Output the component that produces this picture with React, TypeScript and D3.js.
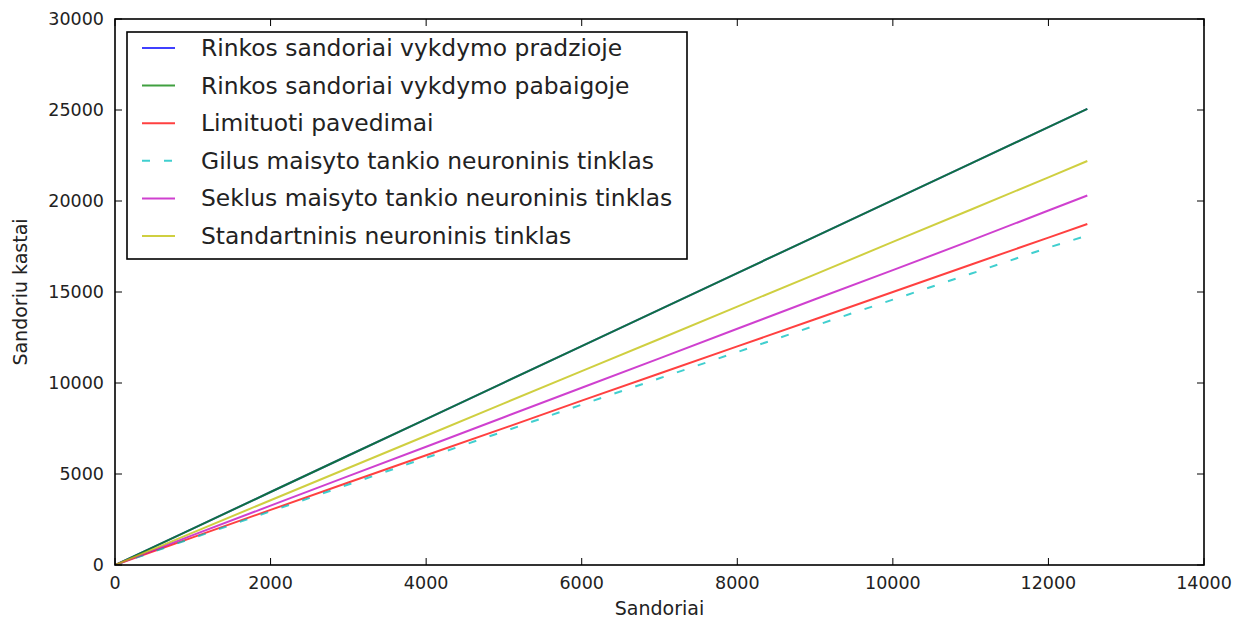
import React from "react";
import * as d3 from "d3";

const xValues = [0, 1000, 2000, 3000, 4000, 5000, 6000, 7000, 8000, 9000, 10000, 11000, 12000, 12500];
const blueValues = [0, 2000, 4010, 6015, 8020, 10025, 12030, 14035, 16040, 18045, 20050, 22055, 24060, 25060];
const greenValues = [0, 2000, 4010, 6015, 8020, 10025, 12030, 14035, 16040, 18045, 20050, 22055, 24060, 25060];
const redValues = [0, 1520, 3030, 4530, 6030, 7520, 9030, 10520, 12010, 13500, 15000, 16500, 17990, 18740];
const cyanValues = [0, 1480, 2950, 4420, 5890, 7340, 8810, 10260, 11700, 13150, 14580, 16000, 17440, 18100];
const magentaValues = [0, 1640, 3260, 4880, 6500, 8120, 9740, 11350, 12980, 14600, 16200, 17820, 19480, 20300];
const yellowValues = [0, 1780, 3560, 5330, 7100, 8880, 10650, 12420, 14200, 15970, 17750, 19520, 21300, 22200];

const seriesNames = [
  "Rinkos sandoriai vykdymo pradzioje",
  "Rinkos sandoriai vykdymo pabaigoje",
  "Limituoti pavedimai",
  "Gilus maisyto tankio neuroninis tinklas",
  "Seklus maisyto tankio neuroninis tinklas",
  "Standartninis neuroninis tinklas",
];
const seriesValues = [blueValues, greenValues, redValues, cyanValues, magentaValues, yellowValues];
const seriesColors = ["#0000ff", "#008000", "#ff0000", "#00bfbf", "#bf00bf", "#bfbf00"];
const seriesDashed = [false, false, false, true, false, false];

const xTicks = [0, 2000, 4000, 6000, 8000, 10000, 12000, 14000];
const yTicks = [0, 5000, 10000, 15000, 20000, 25000, 30000];
const xLabel = "Sandoriai";
const yLabel = "Sandoriu kastai";

export default function App() {
  const W = 1242, H = 621;
  const left = 115, right = 1204, top = 19, bottom = 565;
  const x = d3.scaleLinear().domain([0, 14000]).range([left, right]);
  const y = d3.scaleLinear().domain([0, 30000]).range([bottom, top]);
  const font = "'DejaVu Sans', sans-serif";
  const tickLen = 7;

  const line = (vals: number[]) =>
    d3.line<number>().x((_, i) => x(xValues[i])).y((v) => y(v))(vals) || "";

  const legX = 127, legY = 32, legW = 560, legH = 227;
  const rowH = 37.6;

  return (
    <svg width={W} height={H} style={{ position: "absolute", left: 0, top: 0, background: "#fff" }} fontFamily={font}>
      <rect x={0} y={0} width={W} height={H} fill="#fff" />
      <clipPath id="plot">
        <rect x={left} y={top} width={right - left} height={bottom - top} />
      </clipPath>
      <g clipPath="url(#plot)">
        {seriesValues.map((vals, i) => (
          <path
            key={i}
            d={line(vals)}
            fill="none"
            stroke={seriesColors[i]}
            strokeOpacity={0.75}
            strokeWidth={2}
            strokeDasharray={seriesDashed[i] ? "8,14" : undefined}
          />
        ))}
      </g>
      {xTicks.map((t) => (
        <g key={"x" + t}>
          <line x1={x(t)} x2={x(t)} y1={bottom} y2={bottom - tickLen} stroke="#000" strokeWidth={1} />
          <line x1={x(t)} x2={x(t)} y1={top} y2={top + tickLen} stroke="#000" strokeWidth={1} />
          <text x={x(t)} y={bottom + 24} fontSize={17.5} textAnchor="middle" fill="#222">{t}</text>
        </g>
      ))}
      {yTicks.map((t) => (
        <g key={"y" + t}>
          <line x1={left} x2={left + tickLen} y1={y(t)} y2={y(t)} stroke="#000" strokeWidth={1} />
          <line x1={right} x2={right - tickLen} y1={y(t)} y2={y(t)} stroke="#000" strokeWidth={1} />
          <text x={left - 11} y={y(t) + 6} fontSize={17.5} textAnchor="end" fill="#222">{t}</text>
        </g>
      ))}
      <rect x={left} y={top} width={right - left} height={bottom - top} fill="none" stroke="#000" strokeWidth={1.6} />
      <text x={(left + right) / 2} y={615} fontSize={19} textAnchor="middle" fill="#222">{xLabel}</text>
      <text transform={`translate(27,${(top + bottom) / 2}) rotate(-90)`} fontSize={19} textAnchor="middle" fill="#222">{yLabel}</text>
      <rect x={legX} y={legY} width={legW} height={legH} fill="#fff" stroke="#000" strokeWidth={1.6} />
      {seriesNames.map((name, i) => {
        const cy = legY + 16 + i * rowH;
        return (
          <g key={name}>
            <line
              x1={142}
              x2={175}
              y1={cy}
              y2={cy}
              stroke={seriesColors[i]}
              strokeOpacity={0.75}
              strokeWidth={2}
              strokeDasharray={seriesDashed[i] ? "8,14" : undefined}
            />
            <text x={201} y={cy + 8} fontSize={23.4} fill="#222">{name}</text>
          </g>
        );
      })}
    </svg>
  );
}
